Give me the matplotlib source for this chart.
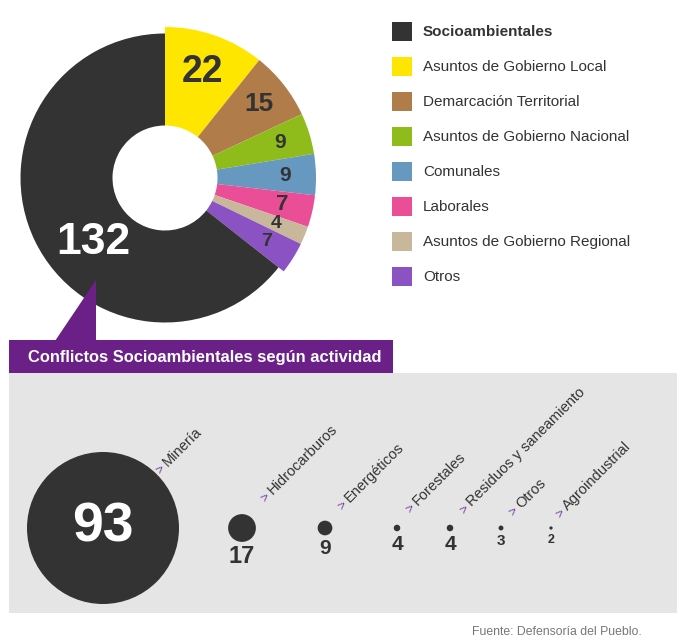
import matplotlib
matplotlib.use('Agg')
import matplotlib.pyplot as plt
from matplotlib.patches import Rectangle, Polygon, Circle
from matplotlib import font_manager as fm
import numpy as np

# ---------------- data ----------------
categories = ["Socioambientales", "Asuntos de Gobierno Local", "Demarcación Territorial",
              "Asuntos de Gobierno Nacional", "Comunales", "Laborales",
              "Asuntos de Gobierno Regional", "Otros"]
values = [132, 22, 15, 9, 9, 7, 4, 7]
colors = ["#333333", "#FFE600", "#B07D4A", "#8FBC1B", "#6798C0", "#E94E96", "#C9B79C", "#8A52C3"]

activities = ["Minería", "Hidrocarburos", "Energéticos", "Forestales",
              "Residuos y saneamiento", "Otros", "Agroindustrial"]
activity_values = [93, 17, 9, 4, 4, 3, 2]

title = "Conflictos Socioambientales según actividad"
source = "Fuente: Defensoría del Pueblo."

# ---------------- layout / style ----------------
W, H = 685, 644
plt.rcParams['font.family'] = ['Liberation Sans', 'DejaVu Sans']
_names = {f.name for f in fm.fontManager.ttflist}
if 'Liberation Sans Narrow' in _names:
    NARROW = ['Liberation Sans Narrow', 'DejaVu Sans']
    narrow_ok = True
else:
    NARROW = ['Liberation Sans', 'DejaVu Sans']
    narrow_ok = False
DARK = "#333333"
PURPLE = "#6B2088"

fig = plt.figure(figsize=(W / 100, H / 100), dpi=100)
ax = fig.add_axes([0, 0, 1, 1])


def Y(py):
    return H - py


# donut
cx, cy = 165, Y(178)
r_out, r_dark, r_in = 151, 144.5, 52.5
order = list(range(1, len(values))) + [0]
pie_vals = [values[i] for i in order]
pie_cols = [colors[i] for i in order]
wedges, _ = ax.pie(pie_vals, colors=pie_cols, startangle=90, counterclock=False,
                   radius=r_out, center=(cx, cy),
                   wedgeprops=dict(width=r_out - r_in, linewidth=0))
wedges[-1].set_radius(r_dark)
wedges[-1].set_width(r_dark - r_in)

label_sizes = [32, 27, 19, 15, 15, 16, 14, 14]
total = sum(pie_vals)
cum = 0
for k, i in enumerate(order):
    v = values[i]
    mid = (cum + v / 2) / total * 2 * np.pi
    cum += v
    if i == 0:
        continue
    rr = 112 if i == 1 else 120
    ax.text(cx + rr * np.sin(mid), cy + rr * np.cos(mid), str(v), color=DARK,
            fontsize=label_sizes[i], fontweight='bold', ha='center', va='center')
# big label of the dark wedge
ax.text(93, Y(242), str(values[0]), color='white', fontsize=label_sizes[0],
        fontweight='bold', ha='center', va='center')

# legend
for i, (cat, col) in enumerate(zip(categories, colors)):
    yc = Y(31.5 + 35 * i)
    ax.add_patch(Rectangle((392, yc - 9.5), 20, 19, color=col, lw=0))
    ax.text(423, yc, cat, fontsize=11, color=DARK, va='center', ha='left',
            fontweight='bold' if i == 0 else 'normal')

# pointer triangle + banner
ax.add_patch(Polygon([(96, Y(280)), (96, Y(341)), (55, Y(341))], closed=True,
                     color=PURPLE, lw=0))
ax.add_patch(Rectangle((9, Y(373)), 384, 33, color=PURPLE, lw=0))
ax.text(28, Y(357), title, color='white', fontsize=11.9, fontweight='bold',
        ha='left', va='center')

# grey panel
ax.add_patch(Rectangle((9, Y(613)), 668, 240, color="#E5E5E5", lw=0))

# bubbles (radius proportional to value)
bx = [103, 242, 325, 397, 450, 501, 551]
by = Y(528)
kscale = 76 / 93
num_sizes = [44, 18, 16, 16, 16, 12, 10] if narrow_ok else [40, 17, 15, 15, 15, 11, 9]
arrow_pos = [(163, 471), (268, 499), (345, 507), (413, 510), (467, 511), (516, 513), (563, 515)]
for j, (name, v) in enumerate(zip(activities, activity_values)):
    r = v * kscale
    ax.add_patch(Circle((bx[j], by), r, color=DARK, lw=0))
    if j == 0:
        ax.text(bx[j], by, str(v), color='white', fontsize=num_sizes[j],
                fontweight='bold', ha='center', va='center', family=NARROW)
    else:
        fs_px = num_sizes[j] * 100 / 72
        base = by - r - 4 - 0.72 * fs_px
        ax.text(bx[j], base, str(v), color=DARK, fontsize=num_sizes[j],
                fontweight='bold', ha='center', va='baseline', family=NARROW)
    axp, ayp = arrow_pos[j]
    ax0, ay0 = axp - 3, Y(ayp + 4)
    ax.text(ax0, ay0, ">", color="#7B3FA6", fontsize=9.5, rotation=45,
            rotation_mode='anchor', ha='left', va='baseline')
    d = 11
    ax.text(ax0 + d * np.cos(np.pi / 4), ay0 + d * np.sin(np.pi / 4), name,
            color=DARK, fontsize=10.5, rotation=45, rotation_mode='anchor',
            ha='left', va='baseline')

# source
ax.text(642, Y(632), source, color="#777777", fontsize=8.8, ha='right', va='center',
        family=NARROW)

ax.set_xlim(0, W)
ax.set_ylim(0, H)
ax.set_aspect('equal')
ax.axis('off')
fig.savefig("out.png", dpi=100, facecolor='white')
